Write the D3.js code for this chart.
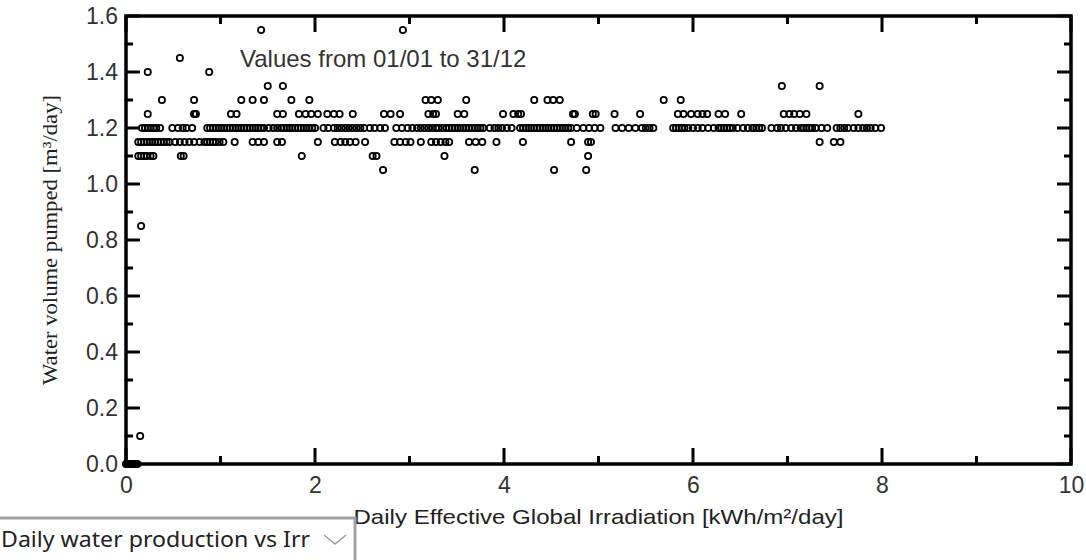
<!DOCTYPE html>
<html lang="en">
<head>
    <meta charset="UTF-8">
    <title>Daily water production vs Irradiation</title>
    <style>
        body { margin: 0; background: #fff; overflow: hidden; }
        svg { display: block; }
    </style>
</head>
<body>
    <div id="chart"></div>

    <script src="https://d3js.org/d3.v7.min.js"></script>
    <script>
        // pumped volume levels [m3/day] and the irradiation of each day at that level
        var vol155 = [1.43, 2.93];
        var vol145 = [0.57];
        var vol140 = [0.23, 0.88];
        var vol135 = [1.50, 1.66, 6.94, 7.34];
        var vol130 = [0.38, 0.72, 1.22, 1.34, 1.46, 1.75, 1.94, 3.17, 3.23, 3.30, 3.60,
                      4.32, 4.46, 4.52, 4.59, 5.69, 5.87];
        var vol125 = [0.23, 0.72, 0.74, 1.11, 1.17, 1.60, 1.66, 1.83, 1.90, 1.96, 2.03,
                      2.13, 2.20, 2.26, 2.40, 2.73, 2.80, 2.90, 3.20, 3.25, 3.28, 3.51,
                      3.58, 3.99, 4.10, 4.15, 4.18, 4.73, 4.75, 4.94, 4.97, 5.17, 5.44,
                      5.84, 5.90, 5.98, 6.05, 6.10, 6.15, 6.27, 6.34, 6.51, 6.96, 7.02,
                      7.07, 7.13, 7.20, 7.75];
        var vol120 = [0.17, 0.20, 0.23, 0.26, 0.29, 0.32, 0.36, 0.49, 0.55, 0.60, 0.64,
                      0.70, 0.86, 0.89, 0.92, 0.95, 0.98, 1.01, 1.04, 1.07, 1.10, 1.13,
                      1.16, 1.19, 1.22, 1.25, 1.28, 1.31, 1.34, 1.37, 1.40, 1.43, 1.46,
                      1.51, 1.56, 1.60, 1.64, 1.67, 1.70, 1.73, 1.76, 1.79, 1.82, 1.85,
                      1.88, 1.91, 1.94, 1.97, 2.00, 2.09, 2.14, 2.20, 2.24, 2.28, 2.32,
                      2.36, 2.40, 2.44, 2.48, 2.52, 2.58, 2.63, 2.69, 2.74, 2.86, 2.92,
                      2.98, 3.03, 3.08, 3.12, 3.16, 3.20, 3.24, 3.28, 3.31, 3.35, 3.39,
                      3.42, 3.45, 3.48, 3.51, 3.54, 3.57, 3.60, 3.63, 3.66, 3.69, 3.72,
                      3.75, 3.78, 3.85, 3.90, 3.94, 3.98, 4.03, 4.08, 4.17, 4.20, 4.23,
                      4.26, 4.29, 4.32, 4.35, 4.38, 4.41, 4.44, 4.47, 4.50, 4.53, 4.56,
                      4.59, 4.62, 4.65, 4.68, 4.71, 4.77, 4.84, 4.90, 4.96, 5.02, 5.18,
                      5.25, 5.32, 5.39, 5.46, 5.50, 5.54, 5.58, 5.79, 5.82, 5.85, 5.88,
                      5.91, 5.95, 6.00, 6.05, 6.10, 6.16, 6.22, 6.27, 6.30, 6.33, 6.36,
                      6.39, 6.42, 6.47, 6.53, 6.58, 6.63, 6.64, 6.67, 6.70, 6.73, 6.83,
                      6.89, 6.93, 6.98, 7.04, 7.09, 7.14, 7.17, 7.20, 7.23, 7.26, 7.30,
                      7.36, 7.42, 7.52, 7.56, 7.60, 7.64, 7.70, 7.75, 7.80, 7.84, 7.88,
                      7.93, 7.99];
        var vol115 = [0.13, 0.16, 0.19, 0.22, 0.25, 0.28, 0.31, 0.34, 0.37, 0.40, 0.43,
                      0.46, 0.52, 0.57, 0.62, 0.67, 0.72, 0.78, 0.83, 0.86, 0.89, 0.92,
                      0.95, 0.99, 1.03, 1.15, 1.34, 1.40, 1.46, 1.60, 1.65, 2.03, 2.21,
                      2.27, 2.32, 2.37, 2.43, 2.53, 2.84, 2.90, 2.96, 3.01, 3.12, 3.23,
                      3.28, 3.33, 3.38, 3.42, 3.63, 3.70, 3.77, 3.92, 4.20, 4.71, 4.89,
                      4.92, 7.34, 7.49, 7.56];
        var vol110 = [0.13, 0.16, 0.19, 0.22, 0.26, 0.29, 0.58, 0.61, 1.86, 2.61, 2.65,
                      3.37, 4.89];
        var vol105 = [2.72, 3.69, 4.53, 4.87];
        var vol085 = [0.16];
        var vol010 = [0.15];
        var vol000 = [0.00, 0.02, 0.04, 0.06, 0.08, 0.10, 0.12];

        var levels = [1.55, 1.45, 1.40, 1.35, 1.30, 1.25, 1.20, 1.15, 1.10, 1.05, 0.85, 0.10, 0.00];
        var levelDays = [vol155, vol145, vol140, vol135, vol130, vol125, vol120,
                         vol115, vol110, vol105, vol085, vol010, vol000];

        var xMajor = [0, 2, 4, 6, 8, 10];
        var xMinor = [1, 3, 5, 7, 9];
        var yMajor = [0, 0.2, 0.4, 0.6, 0.8, 1.0, 1.2, 1.4, 1.6];
        var yMinor = [0.1, 0.3, 0.5, 0.7, 0.9, 1.1, 1.3, 1.5];

        var titleText = "Values from 01/01 to 31/12";
        var xLabel = "Daily Effective Global Irradiation [kWh/m\u00b2/day]";
        var yLabel = "Water volume pumped [m\u00b3/day]";
        var selectText = "Daily water production vs Irr";

        // build point list
        var points = [];
        levels.forEach(function(v, i) {
            levelDays[i].forEach(function(d) { points.push({irr: d, vol: v}); });
        });

        var W = 1086, H = 560;
        var margin = {top: 16, right: 15, bottom: 96, left: 126},
            width = W - margin.left - margin.right,
            height = H - margin.top - margin.bottom;

        var svg = d3.select("#chart").append("svg")
            .attr("width", W)
            .attr("height", H);

        var g = svg.append("g")
            .attr("transform", "translate(" + margin.left + "," + margin.top + ")");

        var x = d3.scaleLinear().domain([0, 10]).range([0, width]);
        var y = d3.scaleLinear().domain([0, 1.6]).range([height, 0]);

        var labelFont = "'Liberation Sans', Arial, sans-serif";

        // tick labels
        function styleLabels(s) {
            s.select(".domain").remove();
            s.selectAll(".tick line").remove();
            s.selectAll(".tick text")
                .style("font-family", labelFont)
                .style("font-size", "23px")
                .attr("fill", "#333");
        }
        g.append("g").attr("transform", "translate(0," + height + ")")
            .call(d3.axisBottom(x).tickValues(xMajor).tickSize(0).tickPadding(13).tickFormat(d3.format("d")))
            .call(styleLabels);
        g.append("g")
            .call(d3.axisLeft(y).tickValues(yMajor).tickSize(0).tickPadding(8).tickFormat(d3.format(".1f")))
            .call(styleLabels);

        // frame
        g.append("rect")
            .attr("x", 0).attr("y", 0)
            .attr("width", width).attr("height", height)
            .attr("fill", "none")
            .attr("stroke", "#000")
            .attr("stroke-width", 3.5);

        // points
        g.selectAll("circle.pt")
            .data(points)
            .enter()
            .append("circle")
            .attr("class", "pt")
            .attr("cx", function(d) { return x(d.irr); })
            .attr("cy", function(d) { return y(d.vol); })
            .attr("r", 3.1)
            .attr("fill", "none")
            .attr("stroke", "#000")
            .attr("stroke-width", 1.8);

        // inward tick marks on all four sides
        var tickLayer = g.append("g");
        function addXTicks(vals, len, y0, dir) {
            tickLayer.selectAll(null).data(vals).enter().append("line")
                .attr("x1", function(d) { return x(d); })
                .attr("x2", function(d) { return x(d); })
                .attr("y1", y0)
                .attr("y2", y0 + dir * len)
                .attr("stroke", "#000")
                .attr("stroke-width", 3);
        }
        function addYTicks(vals, len, x0, dir) {
            tickLayer.selectAll(null).data(vals).enter().append("line")
                .attr("y1", function(d) { return y(d); })
                .attr("y2", function(d) { return y(d); })
                .attr("x1", x0)
                .attr("x2", x0 + dir * len)
                .attr("stroke", "#000")
                .attr("stroke-width", 3);
        }
        addXTicks(xMajor, 16, height, -1);
        addXTicks(xMinor, 8, height, -1);
        addXTicks(xMajor, 16, 0, 1);
        addXTicks(xMinor, 8, 0, 1);
        addYTicks(yMajor, 14, 0, 1);
        addYTicks(yMinor, 7, 0, 1);
        addYTicks(yMajor, 14, width, -1);
        addYTicks(yMinor, 7, width, -1);

        // annotation
        g.append("text")
            .attr("x", 114)
            .attr("y", 51)
            .style("font-family", labelFont)
            .style("font-size", "24px")
            .attr("fill", "#333")
            .text(titleText);

        // axis titles
        svg.append("text")
            .attr("x", margin.left + width / 2)
            .attr("y", 524)
            .attr("text-anchor", "middle")
            .attr("textLength", 490)
            .attr("lengthAdjust", "spacingAndGlyphs")
            .style("font-family", labelFont)
            .style("font-size", "21px")
            .attr("fill", "#222")
            .text(xLabel);

        svg.append("text")
            .attr("transform", "translate(57," + (margin.top + height / 2) + ") rotate(-90)")
            .attr("text-anchor", "middle")
            .attr("textLength", 290)
            .attr("lengthAdjust", "spacingAndGlyphs")
            .style("font-family", "'Liberation Serif', 'Times New Roman', serif")
            .style("font-size", "22px")
            .attr("fill", "#222")
            .text(yLabel);

        // the chart selector box at the bottom left
        var picker = svg.append("g");
        picker.append("rect")
            .attr("x", -3).attr("y", 518)
            .attr("width", 358).attr("height", 50)
            .attr("fill", "#fff")
            .attr("stroke", "#a3a3a3")
            .attr("stroke-width", 3);
        picker.append("text")
            .attr("x", 1)
            .attr("y", 547)
            .attr("textLength", 309)
            .attr("lengthAdjust", "spacingAndGlyphs")
            .style("font-family", "'Noto Sans', 'Open Sans', sans-serif")
            .style("font-size", "21px")
            .attr("fill", "#222")
            .text(selectText);
        picker.append("path")
            .attr("d", "M324,535 L335,544 L346,535")
            .attr("fill", "none")
            .attr("stroke", "#9a9a9a")
            .attr("stroke-width", 1.5);
    </script>
</body>
</html>
